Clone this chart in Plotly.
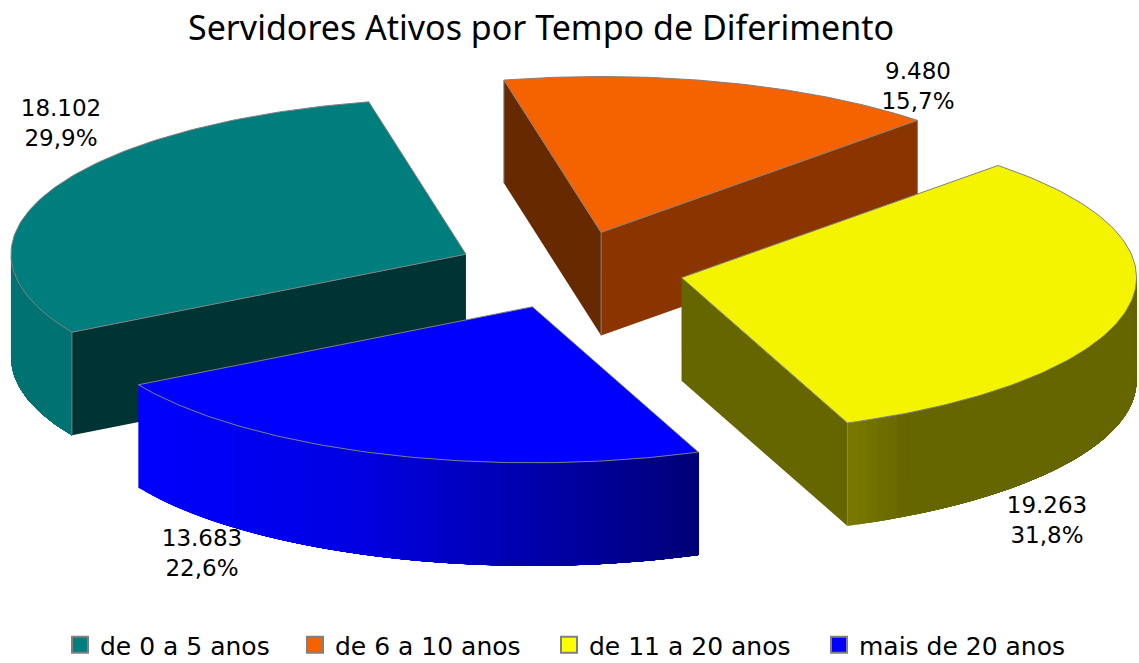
import math
import plotly.graph_objects as go

# ---- data ----
categories = ["de 0 a 5 anos", "de 6 a 10 anos", "de 11 a 20 anos", "mais de 20 anos"]
values = [18102, 9480, 19263, 13683]
value_labels = ["18.102", "9.480", "19.263", "13.683"]
pct_labels = ["29,9%", "15,7%", "31,8%", "22,6%"]
top_colors = ["#007d7d", "#f56200", "#f4f400", "#0000ff"]
legend_colors = ["#007d7d", "#f56200", "#ffff00", "#0000ff"]

# ---- projection of the exploded 3-D pie ----
W, H = 1139, 663
CX, CY, RX, RY = 570, 270, 455, 156
EXPLODE = 0.25
DEPTH = 103
START_DEG = 150
EDGE = "#808080"

start_face = {0: "#003333", 1: "#662900", 2: "#666600", 3: "#00007a"}
end_face = {0: "#003333", 1: "#8a3500", 2: "#666600", 3: "#0000ff"}
# rim gradient, left->right along the visible arc
rim_stops = {
    0: [(0.0, (0, 114, 114)), (1.0, (0, 114, 114))],
    1: [(0.0, (138, 53, 0)), (1.0, (138, 53, 0))],
    2: [(0.0, (122, 122, 0)), (0.2, (102, 102, 0)), (1.0, (102, 102, 0))],
    3: [(0.0, (0, 0, 255)), (0.4, (0, 0, 225)), (1.0, (0, 0, 118))],
}
paint_order = [1, 0, 2, 3]
label_xy = {0: (61, 125), 1: (918, 88), 2: (1047, 522), 3: (202, 555)}
legend_x = [60, 295, 549, 819]

total = sum(values)
angles = []
a = START_DEG
for v in values:
    angles.append((a, a + 360 * v / total))
    a += 360 * v / total


def pt(ox, oy, deg, dz=0):
    r = math.radians(deg)
    return ox + RX * math.cos(r), oy + RY * math.sin(r) + dz


def lerp(stops, f):
    for (f0, c0), (f1, c1) in zip(stops, stops[1:]):
        if f <= f1:
            k = (f - f0) / (f1 - f0)
            return "rgb(%d,%d,%d)" % tuple(round(p + (q - p) * k) for p, q in zip(c0, c1))
    return "rgb(%d,%d,%d)" % stops[-1][1]


fig = go.Figure()


def poly(pts, fill, line=None, width=1):
    xs = [p[0] for p in pts] + [pts[0][0]]
    ys = [p[1] for p in pts] + [pts[0][1]]
    fig.add_trace(go.Scatter(x=xs, y=ys, mode="lines", fill="toself", fillcolor=fill,
                             line=dict(color=line or fill, width=width),
                             hoverinfo="skip", showlegend=False))


def edge(pts):
    fig.add_trace(go.Scatter(x=[p[0] for p in pts], y=[p[1] for p in pts], mode="lines",
                             line=dict(color=EDGE, width=1), hoverinfo="skip", showlegend=False))


for i in paint_order:
    s, e = angles[i]
    mid = math.radians((s + e) / 2)
    ox = CX + EXPLODE * RX * math.cos(mid)
    oy = CY + EXPLODE * RY * math.sin(mid)
    apex = (ox, oy)
    # outer rim: only the part of the arc that faces the viewer
    lo, hi = None, None
    for k in (0, 360, -360):
        l2, h2 = max(s, 0 + k), min(e, 180 + k)
        if h2 > l2:
            lo, hi = l2, h2
    if lo is not None:
        n = 50
        step = (hi - lo) / n
        xa, xb = pt(ox, oy, hi)[0], pt(ox, oy, lo)[0]
        # painted from the high-angle end inwards so neighbouring bands never show a seam
        for j in range(n):
            d0 = hi - j * step
            xm = pt(ox, oy, d0 - step / 2)[0]
            col = lerp(rim_stops[i], (xm - xa) / (xb - xa))
            arc = [pt(ox, oy, d0 - (d0 - lo) * q / 30) for q in range(31)]
            poly(arc + [(p[0], p[1] + DEPTH) for p in reversed(arc)], col, width=0)
    # cut faces
    if math.sin(math.radians(s - 90)) > 0:
        ps = pt(ox, oy, s)
        poly([apex, ps, (ps[0], ps[1] + DEPTH), (ox, oy + DEPTH)], start_face[i], width=0)
        edge([ps, (ps[0], ps[1] + DEPTH)])
    if math.sin(math.radians(e + 90)) > 0:
        pe = pt(ox, oy, e)
        poly([apex, pe, (pe[0], pe[1] + DEPTH), (ox, oy + DEPTH)], end_face[i], width=0)
        edge([pe, (pe[0], pe[1] + DEPTH)])
    if math.sin(math.radians(s - 90)) > 0 and math.sin(math.radians(e + 90)) > 0:
        edge([apex, (ox, oy + DEPTH)])
    # top face
    arc = [pt(ox, oy, s + (e - s) * j / 120) for j in range(121)]
    poly([apex] + arc, top_colors[i], EDGE)

# data labels
fig.add_trace(go.Scatter(
    x=[label_xy[i][0] for i in range(4)], y=[label_xy[i][1] for i in range(4)],
    mode="text", text=[f"{v}<br>{p}" for v, p in zip(value_labels, pct_labels)],
    textposition="middle center", textfont=dict(family="DejaVu Sans", size=23, color="#000000"),
    hoverinfo="skip", showlegend=False))

# legend entries: one legend per entry so each sits at its own position
legend_layout = {}
for i, name in enumerate(categories):
    key = "legend" if i == 0 else f"legend{i + 1}"
    fig.add_trace(go.Scatter(x=[None], y=[None], mode="markers", name=name, legend=key,
                             marker=dict(symbol="square", size=16, color=legend_colors[i],
                                         line=dict(color=EDGE, width=2))))
    legend_layout[key] = dict(orientation="h", x=legend_x[i] / W, xanchor="left",
                              y=1 - 645 / H, yanchor="middle", bgcolor="rgba(0,0,0,0)",
                              font=dict(family="DejaVu Sans", size=25, color="#000000"),
                              itemwidth=30)

fig.update_layout(
    width=W, height=H, margin=dict(l=0, r=0, t=0, b=0, autoexpand=False),
    paper_bgcolor="white", plot_bgcolor="white",
    xaxis=dict(range=[0, W], visible=False, fixedrange=True),
    yaxis=dict(range=[H, 0], visible=False, fixedrange=True),
    title=dict(text="Servidores Ativos por Tempo de Diferimento", x=541 / W, xanchor="center",
               y=1 - 28 / H, yanchor="middle",
               font=dict(family="Noto Sans", size=34, color="#000000")),
    **legend_layout,
)
fig.write_html("out.html", config={"displayModeBar": False},
               post_script="document.body.style.margin='0';document.documentElement.style.overflow='hidden';")
